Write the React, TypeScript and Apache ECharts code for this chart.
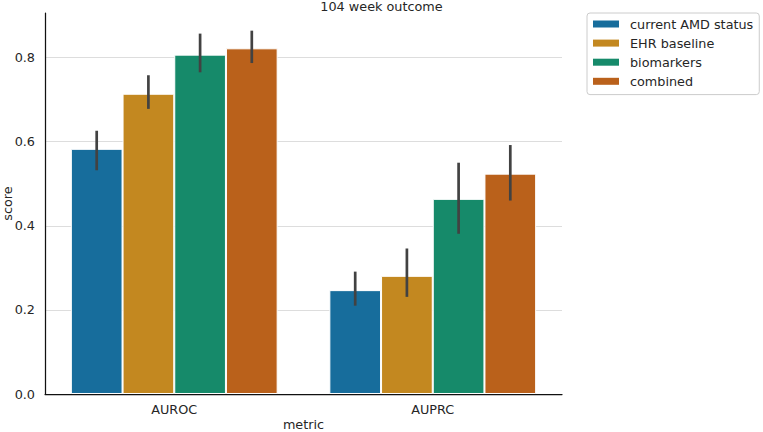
import React, { useEffect, useRef } from "react";
import * as echarts from "echarts";

const categories = ["AUROC", "AUPRC"];
const seriesNames = ["current AMD status", "EHR baseline", "biomarkers", "combined"];
const colors = ["#176d9c", "#c38820", "#168a6a", "#ba611b"];

const currentAMD = [0.583, 0.247];
const ehrBaseline = [0.714, 0.281];
const biomarkers = [0.807, 0.464];
const combined = [0.822, 0.524];

const currentAMDLow = [0.532, 0.21];
const currentAMDHigh = [0.626, 0.291];
const ehrBaselineLow = [0.678, 0.231];
const ehrBaselineHigh = [0.758, 0.346];
const biomarkersLow = [0.765, 0.381];
const biomarkersHigh = [0.857, 0.55];
const combinedLow = [0.787, 0.46];
const combinedHigh = [0.864, 0.592];

const yTicks = [0, 0.2, 0.4, 0.6, 0.8];

const FONT = "DejaVu Sans";
const TEXT = "#262626";

export default function App() {
  const ref = useRef<HTMLDivElement>(null);
  useEffect(() => {
    if (!ref.current) return;
    const chart = echarts.init(ref.current, undefined, { renderer: "svg" });
    const values = [currentAMD, ehrBaseline, biomarkers, combined];
    const lows = [currentAMDLow, ehrBaselineLow, biomarkersLow, combinedLow];
    const highs = [currentAMDHigh, ehrBaselineHigh, biomarkersHigh, combinedHigh];
    const errData: number[][] = [];
    lows.forEach((lo, s) => {
      lo.forEach((l, c) => errData.push([c, l, highs[s][c], s]));
    });
    const option: any = {
      animation: false,
      textStyle: { fontFamily: FONT },
      graphic: [
        {
          type: "text",
          x: 381.5,
          y: 6,
          style: {
            text: "104 week outcome",
            fontFamily: FONT,
            fontSize: 12.8,
            fill: TEXT,
            align: "center",
            verticalAlign: "middle",
          },
        },
      ],
      legend: {
        data: seriesNames,
        orient: "vertical",
        left: 587,
        top: 13,
        padding: [3.5, 6, 5.8, 6],
        itemGap: 4.1,
        itemWidth: 26,
        itemHeight: 7,
        icon: "rect",
        borderColor: "#cccccc",
        borderWidth: 1,
        borderRadius: 3,
        backgroundColor: "#ffffff",
        itemStyle: { borderWidth: 0 },
        textStyle: {
          fontFamily: FONT,
          fontSize: 12.8,
          color: TEXT,
          lineHeight: 15,
          padding: [0, 0, 0, 6],
        },
      },
      grid: { left: 45, right: 201, top: 13, bottom: 38, outerBoundsMode: "none", containLabel: false },
      xAxis: {
        type: "category",
        data: categories,
        name: "metric",
        nameLocation: "middle",
        nameGap: 24,
        nameMoveOverlap: false,
        nameTextStyle: { fontFamily: FONT, fontSize: 12.8, color: TEXT },
        axisLine: { lineStyle: { color: "#111111", width: 1.25 } },
        axisTick: { show: false },
        axisLabel: { fontFamily: FONT, fontSize: 12.8, color: TEXT, margin: 9 },
        splitLine: { show: false },
      },
      yAxis: {
        type: "value",
        min: yTicks[0],
        max: 0.906,
        interval: 0.2,
        name: "score",
        nameLocation: "middle",
        nameGap: 31,
        nameMoveOverlap: false,
        nameTextStyle: { fontFamily: FONT, fontSize: 12.8, color: TEXT },
        axisLine: { show: true, lineStyle: { color: "#111111", width: 1.25 } },
        axisTick: { show: false },
        axisLabel: {
          fontFamily: FONT,
          fontSize: 12.8,
          color: TEXT,
          margin: 10,
          showMaxLabel: false,
          formatter: (v: number) => v.toFixed(1),
        },
        splitLine: {
          show: true,
          showMaxLine: false,
          lineStyle: { color: "#dddddd", width: 1 },
        },
      },
      series: [
        ...seriesNames.map((name, i) => ({
          name,
          type: "bar",
          data: values[i],
          barGap: "0%",
          barCategoryGap: "20%",
          itemStyle: { color: colors[i], borderColor: "#ffffff", borderWidth: 1 },
          z: 2,
        })),
        {
          type: "custom",
          name: "ci",
          data: errData,
          encode: { x: 0, y: [1, 2] },
          z: 5,
          renderItem: (params: any, api: any) => {
            const cat = api.value(0);
            const lo = api.value(1);
            const hi = api.value(2);
            const s = api.value(3);
            const band = api.size([1, 0])[0];
            const p1 = api.coord([cat, lo]);
            const p2 = api.coord([cat, hi]);
            const x = p1[0] + (s - 1.5) * band * 0.2;
            return {
              type: "line",
              shape: { x1: x, y1: p1[1], x2: x, y2: p2[1] },
              style: { stroke: "#424242", lineWidth: 2.7 },
            };
          },
        },
      ],
    };
    chart.setOption(option);
    return () => chart.dispose();
  }, []);
  return <div ref={ref} style={{ width: 763, height: 432, position: "absolute", left: 0, top: 0 }} />;
}
